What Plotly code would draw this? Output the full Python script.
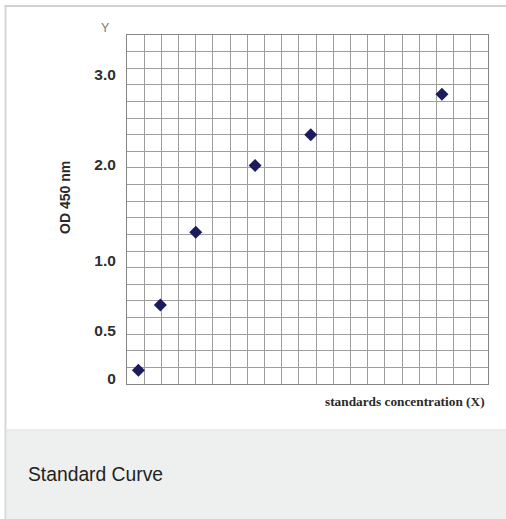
import plotly.graph_objects as go

# ---- data (in grid units of the drawn sheet) ----
std_x = [0.66, 1.94, 4.0, 7.45, 10.69, 18.32]
std_y = [0.82, 4.75, 9.13, 13.15, 15.0, 17.43]
y_tick_pos = [0.30, 3.19, 7.40, 13.18, 18.59]
y_tick_labels = ["0", "0.5", "1.0", "2.0", "3.0"]
grid_cells = 21

W, H = 506, 519
L, R, T, B = 127, 488, 35, 384  # plot area in pixels


def px(x):
    return (x - L) / (R - L)


def py(y):
    return (B - y) / (B - T)


fig = go.Figure()
fig.add_trace(go.Scatter(
    x=std_x, y=std_y, mode="markers",
    marker=dict(symbol="diamond", size=10, color="#1c1c5c"),
    showlegend=False, hoverinfo="skip",
))

grid_col = "#9e9e9e"
fig.update_layout(
    width=W, height=H,
    margin=dict(l=L, r=W - R, t=T, b=H - B),
    paper_bgcolor="white", plot_bgcolor="white",
    xaxis=dict(range=[0, grid_cells], dtick=1, tick0=0, showgrid=True,
               gridcolor=grid_col, gridwidth=1, showticklabels=False,
               zeroline=False, showline=True, mirror=True,
               linecolor="#858585", linewidth=1, ticks=""),
    yaxis=dict(range=[0, grid_cells], dtick=1, tick0=0, showgrid=True,
               gridcolor=grid_col, gridwidth=1, showticklabels=False,
               zeroline=False, showline=True, mirror=True,
               linecolor="#858585", linewidth=1, ticks=""),
    yaxis2=dict(range=[0, grid_cells], overlaying="y", side="left",
                tickmode="array", tickvals=y_tick_pos, ticktext=y_tick_labels,
                showgrid=False, zeroline=False, showline=False,
                ticks="outside", ticklen=7, tickcolor="rgba(0,0,0,0)",
                tickfont=dict(family="Liberation Sans, Arial", size=15.5,
                              color="#2e2e2e", weight="bold")),
)
# invisible trace to activate yaxis2
fig.add_trace(go.Scatter(x=[None], y=[None], yaxis="y2", showlegend=False,
                         hoverinfo="skip"))

shapes = []
# caption band
shapes.append(dict(type="rect", xref="paper", yref="paper",
                   x0=px(6.5), x1=px(W + 2), y0=py(430.5), y1=py(H + 2),
                   fillcolor="#eef0ef", line=dict(width=0), layer="below"))
shapes.append(dict(type="line", xref="paper", yref="paper",
                   x0=px(6.5), x1=px(W + 2), y0=py(430), y1=py(430),
                   line=dict(color="#dcdcdc", width=1)))
# outer frame: left edge and top edge
shapes.append(dict(type="line", xref="paper", yref="paper",
                   x0=px(5.5), x1=px(5.5), y0=py(H + 2), y1=py(5),
                   line=dict(color="#d8d8d8", width=2), layer="above"))
shapes.append(dict(type="line", xref="paper", yref="paper",
                   x0=px(4.5), x1=px(W + 2), y0=py(6), y1=py(6),
                   line=dict(color="#d2d2d2", width=2), layer="above"))
fig.update_layout(shapes=shapes)

ann = []
ann.append(dict(text="Y", xref="paper", yref="paper", x=px(105.5), y=py(28),
                showarrow=False, xanchor="center", yanchor="middle",
                font=dict(family="Liberation Sans, Arial", size=12.5, color="#7a7a7a")))
ann.append(dict(text="<b>OD 450 nm</b>", xref="paper", yref="paper",
                x=px(65), y=py(198), textangle=-90, showarrow=False,
                xanchor="center", yanchor="middle",
                font=dict(family="Liberation Sans, Arial", size=14, color="#2a2a2a")))
ann.append(dict(text="<b>standards concentration (X)</b>", xref="paper", yref="paper",
                x=px(487), y=py(402), showarrow=False,
                xanchor="right", yanchor="middle",
                font=dict(family="Liberation Serif, Times New Roman", size=13.3,
                          color="#2a2a2a")))
ann.append(dict(text="Standard Curve", xref="paper", yref="paper",
                x=px(26), y=py(474), showarrow=False,
                xanchor="left", yanchor="middle",
                font=dict(family="Liberation Sans, Arial", size=19.3, color="#222222")))
fig.update_layout(annotations=ann)

fig.write_html("out.html",
               config={"displayModeBar": False},
               post_script="document.body.style.margin='0';"
                           "document.body.style.overflow='hidden';")
